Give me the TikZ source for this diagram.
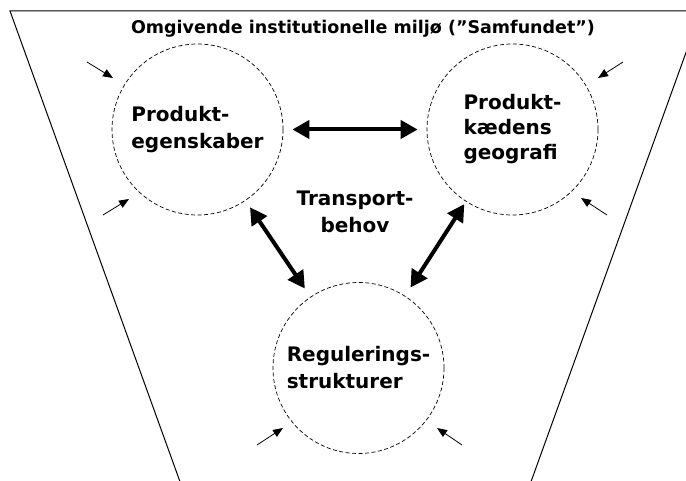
\documentclass[tikz,border=0pt]{standalone}
\usepackage{fontspec}
\setmainfont{DejaVu Sans}
\usepackage{tikz}
\usetikzlibrary{positioning}
\usetikzlibrary{shapes,arrows,arrows.meta}
\tikzstyle{circ} = [circle, draw, dash pattern=on 4pt off 2.5pt, line width=0.7pt,
minimum size=171pt, inner sep=0pt, align=left, font=\fontsize{20}{27}\selectfont\bfseries]
\tikzstyle{txt} = [inner sep=0pt, align=center, font=\fontsize{20}{27}\selectfont\bfseries]
\tikzstyle{funnel} = [draw, line width=1pt]
\tikzstyle{biline} = [draw, line width=4pt, {Triangle[length=17pt,width=18pt]}-{Triangle[length=17pt,width=18pt]}]
\tikzstyle{push} = [draw, line width=0.8pt, -{Triangle[length=10pt,width=8pt]}]

\begin{document}
\begin{tikzpicture}[x=1pt, y=-1pt, node distance=315pt]
    \useasboundingbox (0,0) rectangle (686,481);
    \clip (0,0) rectangle (686,481);
    % frame
    \draw [funnel] (183,490) -- (10,11) -- (701,11) -- (528,490);
    \node [txt, font=\fontsize{17.5}{21}\selectfont\bfseries, anchor=base] (env) at (363,34)
          {Omgivende institutionelle miljø (”Samfundet”)};

    % nodes
    \node [circ] (pe) at (197.5,129.5) {Produkt-\\egenskaber};
    \node [circ, right of=pe, font=\fontsize{20}{25}\selectfont\bfseries] (pkg) {Produkt-\\kædens\\geografi};
    \node [circ, below of=pe, node distance=238.5pt, xshift=161pt] (rs) {Regulerings-\\strukturer};
    \node [txt] (tb) at (355,212) {Transport-\\behov};

    % outside pressure
    \coordinate (p1) at (87,62);   \coordinate (q1) at (113,78);
    \coordinate (p2) at (103,215); \coordinate (q2) at (129,199);
    \coordinate (p3) at (623,62);  \coordinate (q3) at (598,78);
    \coordinate (p4) at (607,215); \coordinate (q4) at (581,198);
    \coordinate (p5) at (257,445); \coordinate (q5) at (283,428);
    \coordinate (p6) at (462,445); \coordinate (q6) at (437,428);

    % edges
    \path [biline, shorten <=9pt, shorten >=9pt] (pe) -- (pkg);
    \path [biline, shorten <=8pt, shorten >=10pt] (pe) -- (rs);
    \path [biline, shorten <=3pt, shorten >=10pt] (pkg) -- (rs);
    \foreach \i in {1,...,6}
        \path [push] (p\i) -- (q\i);

\end{tikzpicture}
\end{document}
